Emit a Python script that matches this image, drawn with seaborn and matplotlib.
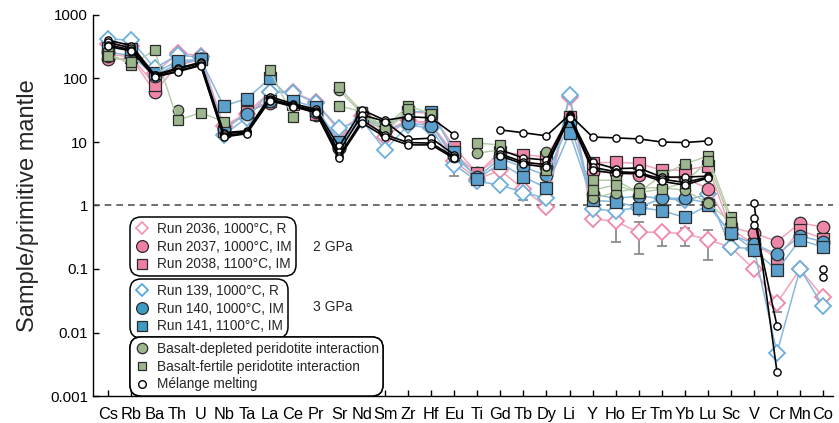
import numpy as np
import pandas as pd
import matplotlib
matplotlib.use("Agg")
import matplotlib.pyplot as plt
import seaborn as sns
from matplotlib.lines import Line2D

nan = np.nan

elements = ["Cs", "Rb", "Ba", "Th", "U", "Nb", "Ta", "La", "Ce", "Pr", "Sr", "Nd",
            "Sm", "Zr", "Hf", "Eu", "Ti", "Gd", "Tb", "Dy", "Li", "Y", "Ho", "Er",
            "Tm", "Yb", "Lu", "Sc", "V", "Cr", "Mn", "Co"]

# 2 GPa experiments
run_2036 = [350, 320, 120, 250, 230, 18, 28, 62, 62, 42, 15, 26, 12, 22, 20, 5.0,
            2.6, 3.6, 1.8, 0.95, 52, 0.62, 0.56, 0.38, 0.38, 0.36, 0.29, 0.22, 0.10,
            0.029, 0.10, 0.036]
run_2037 = [200, 210, 62, 160, 200, 16, 30, 41, 40, 27, 8, 24, 15, 22, 19, 6.5,
            3.2, 6.0, 5.0, 4.0, 25, 3.4, 3.3, 3.0, 2.8, 2.7, 1.85, 0.45, 0.37,
            0.27, 0.53, 0.46]
run_2038 = [240, 220, 80, 175, 200, 15, 30, 45, 40, 28, 9, 25, 17, 30, 28, 8.3,
            3.2, 7.0, 6.3, 5.8, 25, 4.7, 4.8, 4.6, 3.6, 3.6, 4.2, 0.42, 0.25,
            0.15, 0.41, 0.30]

# 3 GPa experiments
run_139 = [420, 400, 145, 235, 215, 13, 24, 61, 60, 41, 16.5, 22, 7.5, 18.5, 16.5,
           4.4, 2.4, 2.1, 1.6, 1.3, 55, 0.87, 0.83, 0.93, 1.3, 1.2, 1.5, 0.22,
           0.21, 0.0048, 0.10, 0.026]
run_140 = [260, 230, 110, 170, 200, 16, 28, 45, 42, 30, 8, 25, 15, 20, 18, 6.0,
           2.8, 5.5, 4.0, 3.0, 20, 1.5, 1.3, 1.4, 1.3, 1.3, 1.1, 0.35, 0.25,
           0.17, 0.33, 0.27]
run_141 = [300, 290, 120, 190, 200, 37, 48, 100, 45, 35, 10, 25, 17, 30, 30, 7.0,
           2.6, 4.7, 2.8, 1.9, 14, 1.2, 1.15, 0.93, 0.83, 0.65, 1.0, 0.37, 0.20,
           0.095, 0.29, 0.22]

# Basalt-peridotite interaction models
depleted_int = [220, 190, nan, 32, nan, nan, nan, nan, nan, nan, 66, 28, 14, 32,
                nan, nan, 6.7, 7.5, nan, 7.0, nan, 1.3, 1.6, 1.9, 1.9, 1.75, 1.1,
                0.55, nan, nan, nan, nan]
fertile_int_a = [250, 165, 280, 22, 29, 21, nan, 136, 25, nan, 73, 30, 17, 37, 28,
                 nan, 9.6, 9.0, nan, 3.6, nan, 2.5, 2.5, 1.6, 3.0, 4.5, 6.0, 0.65,
                 nan, nan, nan, nan]
fertile_int_b = [230, 180, nan, nan, nan, nan, nan, nan, nan, nan, 37, 30, 16, 33,
                 nan, nan, nan, nan, nan, nan, nan, 1.75, 2.1, 1.6, 1.8, 2.3, 5.0,
                 0.55, nan, nan, nan, nan]

# Mélange melting models
melange_1 = [400, 330, 115, 145, 180, 14, 15, 52, 40, 33, 8.5, 32, 22, 25, 24, 13,
             nan, 15.5, 14, 12.5, 27, 12, 11.6, 11.2, 10.0, 9.8, 10.4, nan, nan,
             nan, nan, nan]
melange_2 = [370, 300, 112, 140, 175, 13.5, 14.5, 48, 38, 31, 7, 27, 21, 11, 11.5,
             6.3, nan, 7.5, 5.6, 5.2, 26, 4.8, 3.8, 3.9, 2.8, 2.8, 2.9, nan, 1.1,
             0.0024, nan, 0.10]
melange_3 = [340, 280, 108, 130, 165, 12.5, 14, 46, 37, 30, 6, 22, 13, 9.8, 9.6,
             5.8, nan, 6.5, 4.8, 4.4, 25, 4.0, 3.4, 3.3, 2.6, 2.3, 2.8, nan, 0.64,
             0.0127, nan, 0.075]
melange_4 = [320, 270, 105, 128, 160, 12, 13.5, 45, 36, 29, 5.6, 20, 12, 9.0, 9.0,
             5.5, nan, 6.0, 4.5, 4.0, 24, 3.6, 3.2, 3.2, 2.4, 2.1, 2.7, nan, 0.5,
             nan, nan, nan]

# Analytical uncertainty (lower / upper bounds) on selected points of run 2036 and 139
err_2036_lo = [nan] * 22 + [0.27, 0.17, 0.23, 0.23, 0.14, nan, nan, 0.021, nan, nan]
err_2036_hi = [nan] * 22 + [0.60, 0.55, 0.42, 0.45, 0.41, nan, nan, 0.029, nan, nan]
err_139_lo = [nan] * 15 + [2.9, nan, nan, 1.2] + [nan] * 13
err_139_hi = [nan] * 15 + [4.4, nan, nan, 1.6] + [nan] * 13

PINK = "#ee87a7"
PINK_LINE = "#f2a3bb"
BLUE = "#5b9fcd"
BLUE_LINE = "#86b8de"
BLUE_EDGE = "#6aaede"
GREEN = "#9cb78d"
GREEN_LINE = "#b2cba5"
EDGE = "#2b2b2b"

series = [
    ("Run 2036", run_2036, dict(color=PINK_LINE, marker="D", markersize=8.3,
                                markerfacecolor="white", markeredgecolor=PINK,
                                markeredgewidth=1.3, linewidth=1.1)),
    ("Run 139", run_139, dict(color=BLUE_LINE, marker="D", markersize=8.3,
                              markerfacecolor="white", markeredgecolor=BLUE_EDGE,
                              markeredgewidth=1.3, linewidth=1.1)),
    ("Run 2037", run_2037, dict(color=PINK_LINE, marker="o", markersize=9,
                                markerfacecolor=PINK, markeredgecolor=EDGE,
                                markeredgewidth=0.9, linewidth=1.1)),
    ("Run 2038", run_2038, dict(color=PINK_LINE, marker="s", markersize=8.3,
                                markerfacecolor=PINK, markeredgecolor=EDGE,
                                markeredgewidth=0.9, linewidth=1.1)),
    ("Run 140", run_140, dict(color=BLUE_LINE, marker="o", markersize=9,
                              markerfacecolor=BLUE, markeredgecolor=EDGE,
                              markeredgewidth=0.9, linewidth=1.1)),
    ("Run 141", run_141, dict(color=BLUE_LINE, marker="s", markersize=8.3,
                              markerfacecolor=BLUE, markeredgecolor=EDGE,
                              markeredgewidth=0.9, linewidth=1.1)),
    ("Depleted", depleted_int, dict(color=GREEN_LINE, marker="o", markersize=7.5,
                                    markerfacecolor=GREEN, markeredgecolor=EDGE,
                                    markeredgewidth=0.9, linewidth=1.0)),
    ("Fertile a", fertile_int_a, dict(color=GREEN_LINE, marker="s", markersize=7.0,
                                      markerfacecolor=GREEN, markeredgecolor=EDGE,
                                      markeredgewidth=0.9, linewidth=1.0)),
    ("Fertile b", fertile_int_b, dict(color=GREEN_LINE, marker="s", markersize=7.0,
                                      markerfacecolor=GREEN, markeredgecolor=EDGE,
                                      markeredgewidth=0.9, linewidth=1.0)),
]
for i, m in enumerate([melange_1, melange_2, melange_3, melange_4]):
    series.append((f"Melange {i + 1}", m,
                   dict(color="black", marker="o", markersize=5.2,
                        markerfacecolor="white", markeredgecolor="black",
                        markeredgewidth=1.0, linewidth=1.2)))

sns.set_theme(style="ticks")
plt.rcParams["font.family"] = ["Liberation Sans", "DejaVu Sans"]

fig = plt.figure(figsize=(8.39, 4.23), dpi=100)
ax = fig.add_axes([93 / 839, 27 / 423, 740 / 839, 381 / 423])

idx = np.arange(len(elements))
for z, (name, vals, style) in enumerate(series):
    v = np.asarray(vals, dtype=float)
    # a missing value breaks the line into separate segments
    seg = np.cumsum(np.isnan(v))
    df = pd.DataFrame({"x": idx, "y": v, "seg": seg})
    sns.lineplot(data=df, x="x", y="y", units="seg", estimator=None, sort=False,
                 ax=ax, legend=False, zorder=3 + z * 0.1, **style)

# error bars
for vals, lo, hi in [(run_2036, err_2036_lo, err_2036_hi),
                     (run_139, err_139_lo, err_139_hi)]:
    v = np.asarray(vals, float)
    lo = np.asarray(lo, float)
    hi = np.asarray(hi, float)
    ok = ~np.isnan(lo)
    ax.errorbar(idx[ok], v[ok], yerr=[v[ok] - lo[ok], hi[ok] - v[ok]], fmt="none",
                ecolor="#8c8c8c", elinewidth=1.3, capsize=3.5, capthick=1.3, zorder=2)

ax.axhline(1, color="#555555", lw=1.2, ls=(0, (4, 3)), zorder=1)

ax.set_yscale("log")
ax.set_ylim(1e-3, 1e3)
ax.set_xlim(-0.67, 31.43)
ax.set_yticks([1e-3, 1e-2, 1e-1, 1, 10, 100, 1000])
ax.set_yticklabels(["0.001", "0.01", "0.1", "1", "10", "100", "1000"])
ax.yaxis.set_minor_locator(matplotlib.ticker.NullLocator())
ax.set_xticks(idx)
ax.set_xticklabels(elements)
ax.tick_params(axis="x", direction="in", length=4, width=1, labelsize=11.8, pad=8,
               colors="black")
ax.tick_params(axis="y", direction="in", length=4, width=1, labelsize=10.8,
               colors="black")
ax.set_xlabel("")
ax.set_ylabel("Sample/primitive mantle", fontsize=17, labelpad=8)
sns.despine(ax=ax)
for s in ["left", "bottom"]:
    ax.spines[s].set_color("black")
    ax.spines[s].set_linewidth(1.0)


def handle(marker, ms, fc, ec, mew=0.9):
    return Line2D([], [], ls="none", marker=marker, markersize=ms,
                  markerfacecolor=fc, markeredgecolor=ec, markeredgewidth=mew)


def boxed_legend(handles, labels, top):
    leg = ax.legend(handles, labels, loc="upper left", bbox_to_anchor=(0.05, top),
                    fontsize=9.8, frameon=True, fancybox=True, borderpad=0.35,
                    labelspacing=0.28, handlelength=1.0, handletextpad=0.6,
                    borderaxespad=0, framealpha=1)
    fr = leg.get_frame()
    fr.set_edgecolor("black")
    fr.set_linewidth(1.1)
    fr.set_boxstyle("round,pad=0,rounding_size=0.8")
    ax.add_artist(leg)
    return leg


boxed_legend([handle("D", 6.5, "white", "#f48fb8", 1.2),
              handle("o", 8.5, "#f07fa6", EDGE),
              handle("s", 7.5, "#f07fa6", EDGE)],
             ["Run 2036, 1000°C, R", "Run 2037, 1000°C, IM", "Run 2038, 1100°C, IM"],
             0.47)
boxed_legend([handle("D", 6.5, "white", "#49a3dc", 1.2),
              handle("o", 8.5, "#3d9cc4", EDGE),
              handle("s", 7.5, "#3d9cc4", EDGE)],
             ["Run 139, 1000°C, R", "Run 140, 1000°C, IM", "Run 141, 1100°C, IM"],
             0.307)
boxed_legend([handle("o", 7.5, GREEN, EDGE),
              handle("s", 5.5, GREEN, EDGE),
              handle("o", 5.5, "white", "black", 1.0)],
             ["Basalt-depleted peridotite interaction",
              "Basalt-fertile peridotite interaction", "Mélange melting"],
             0.155)

ax.text(0.297, 0.391, "2 GPa", transform=ax.transAxes, fontsize=10, va="center")
ax.text(0.297, 0.234, "3 GPa", transform=ax.transAxes, fontsize=10, va="center")

fig.savefig("out.png", dpi=100)
